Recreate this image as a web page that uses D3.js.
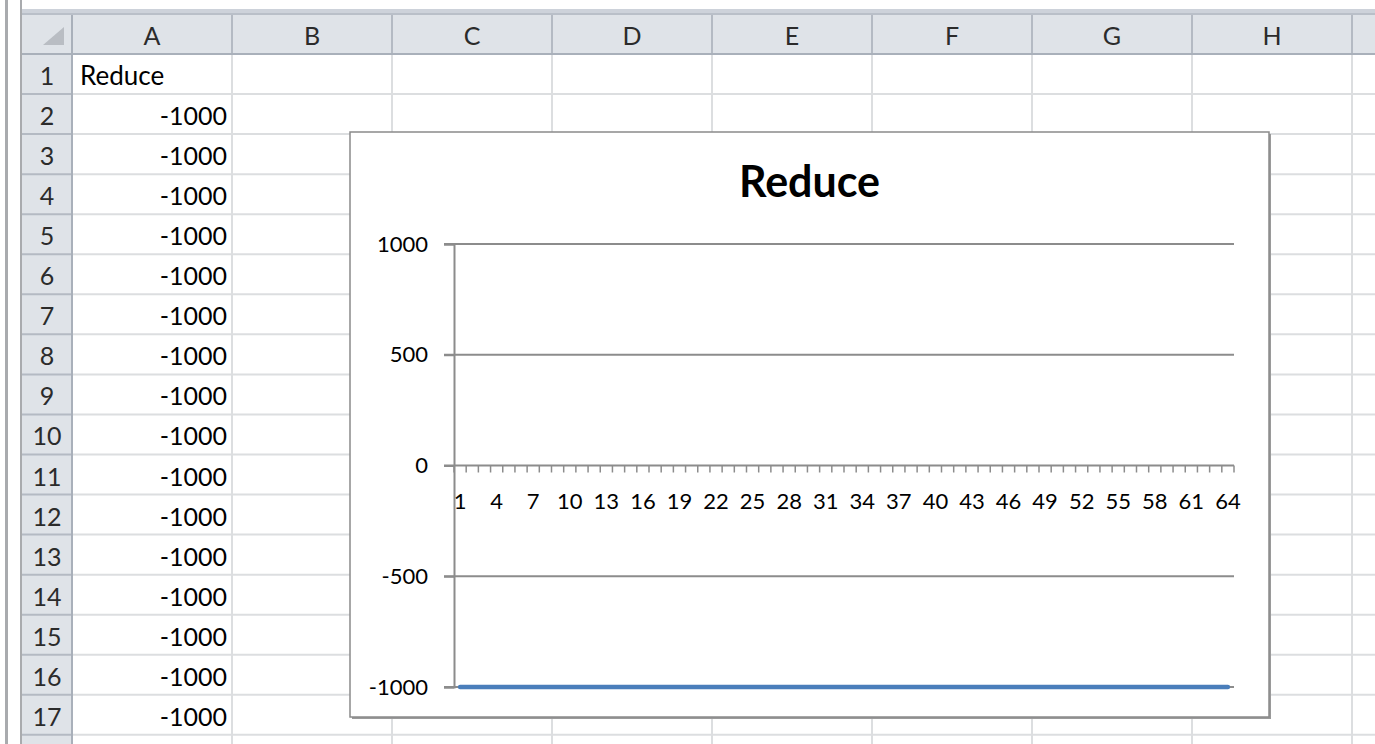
<!DOCTYPE html>
<html>
<head>
<meta charset="utf-8">
<script src="https://cdn.jsdelivr.net/npm/d3@7"></script>
<style>
  html, body { margin: 0; padding: 0; background: #ffffff; }
  svg { display: block; }
  text { font-family: Lato, "Open Sans", "Noto Sans", sans-serif; }
</style>
</head>
<body>
<svg id="chart" width="1375" height="744"></svg>
<script>
// ---- data ----
const seriesName = "Reduce";
const reduceValues = [
  -1000, -1000, -1000, -1000, -1000, -1000, -1000, -1000,
  -1000, -1000, -1000, -1000, -1000, -1000, -1000, -1000,
  -1000, -1000, -1000, -1000, -1000, -1000, -1000, -1000,
  -1000, -1000, -1000, -1000, -1000, -1000, -1000, -1000,
  -1000, -1000, -1000, -1000, -1000, -1000, -1000, -1000,
  -1000, -1000, -1000, -1000, -1000, -1000, -1000, -1000,
  -1000, -1000, -1000, -1000, -1000, -1000, -1000, -1000,
  -1000, -1000, -1000, -1000, -1000, -1000, -1000, -1000
];
const categories = reduceValues.map((_, i) => String(i + 1));
const yTicks = [-1000, -500, 0, 500, 1000];
const columnLetters = ["A", "B", "C", "D", "E", "F", "G", "H"];
const rowNumbers = ["1","2","3","4","5","6","7","8","9","10","11","12","13","14","15","16","17"];

// ---- spreadsheet backdrop ----
const svg = d3.select("#chart");
const W = 1375, H = 744;
const headerTop = 14, headerBottom = 54, rowH = 40.05;
const rowHdrLeft = 22, rowHdrRight = 72, colW = 160;
const hdrBg = "#dfe3e8", hdrLine = "#b4bac3", cellLine = "#dcdee0", hdrText = "#2b2b2b";

const sheet = svg.append("g");
sheet.append("rect").attr("x", 0).attr("y", 0).attr("width", W).attr("height", H).attr("fill", "#fff");
sheet.append("rect").attr("x", rowHdrLeft).attr("y", 9).attr("width", W - rowHdrLeft).attr("height", 4).attr("fill", "#cdd2da");
sheet.append("rect").attr("x", 5).attr("y", 0).attr("width", 3).attr("height", H).attr("fill", "#a9abae");
sheet.append("rect").attr("x", 20).attr("y", 0).attr("width", 2).attr("height", H).attr("fill", "#a9abae");

sheet.append("rect").attr("x", rowHdrLeft).attr("y", headerTop).attr("width", W - rowHdrLeft).attr("height", headerBottom - headerTop).attr("fill", hdrBg);
sheet.append("rect").attr("x", rowHdrLeft).attr("y", headerBottom).attr("width", rowHdrRight - rowHdrLeft).attr("height", H - headerBottom).attr("fill", hdrBg);

// cell grid lines (one extra column / row beyond the labelled ones, partly visible)
const colX = d3.range(columnLetters.length + 2).map(i => rowHdrRight + i * colW);
const rowY = d3.range(rowNumbers.length + 2).map(i => headerBottom + i * rowH);
sheet.selectAll("line.vgrid").data(colX.slice(1)).join("line")
  .attr("x1", d => d).attr("x2", d => d).attr("y1", headerBottom).attr("y2", H)
  .attr("stroke", cellLine).attr("stroke-width", 2);
sheet.selectAll("line.hgrid").data(rowY.slice(1)).join("line")
  .attr("x1", rowHdrRight).attr("x2", W).attr("y1", d => d).attr("y2", d => d)
  .attr("stroke", cellLine).attr("stroke-width", 2);
sheet.selectAll("line.colhdr").data(colX).join("line")
  .attr("x1", d => d).attr("x2", d => d).attr("y1", headerTop).attr("y2", headerBottom)
  .attr("stroke", hdrLine).attr("stroke-width", 2);
sheet.selectAll("line.rowhdr").data(rowY.slice(1)).join("line")
  .attr("x1", rowHdrLeft).attr("x2", rowHdrRight).attr("y1", d => d).attr("y2", d => d)
  .attr("stroke", hdrLine).attr("stroke-width", 2);
sheet.append("line").attr("x1", rowHdrLeft).attr("x2", W).attr("y1", headerBottom).attr("y2", headerBottom)
  .attr("stroke", "#a9b0ba").attr("stroke-width", 2);
sheet.append("line").attr("x1", rowHdrRight).attr("x2", rowHdrRight).attr("y1", headerTop).attr("y2", H)
  .attr("stroke", "#a9b0ba").attr("stroke-width", 2);
sheet.append("line").attr("x1", rowHdrLeft).attr("x2", W).attr("y1", headerTop).attr("y2", headerTop)
  .attr("stroke", "#b9bfc8").attr("stroke-width", 2);
sheet.append("path").attr("d", "M43,45 L64,45 L64,27 Z").attr("fill", "#b9bdc3");

sheet.selectAll("text.col").data(columnLetters).join("text")
  .attr("x", (d, i) => rowHdrRight + i * colW + colW / 2).attr("y", 35)
  .attr("text-anchor", "middle").attr("dominant-baseline", "central")
  .attr("font-size", 25).attr("fill", hdrText).text(d => d);
sheet.selectAll("text.row").data(rowNumbers).join("text")
  .attr("x", (rowHdrLeft + rowHdrRight) / 2 ).attr("y", (d, i) => headerBottom + i * rowH + rowH / 2 + 1)
  .attr("text-anchor", "middle").attr("dominant-baseline", "central")
  .attr("font-size", 25).attr("fill", hdrText).text(d => d);

sheet.append("text").attr("x", 80).attr("y", headerBottom + rowH / 2 + 1)
  .attr("dominant-baseline", "central").attr("font-size", 26).attr("fill", "#000").text(seriesName);
const visibleRows = reduceValues.slice(0, 16);
sheet.selectAll("text.val").data(visibleRows).join("text")
  .attr("x", rowHdrRight + colW - 5)
  .attr("y", (d, i) => headerBottom + (i + 1) * rowH + rowH / 2 + 1)
  .attr("text-anchor", "end").attr("dominant-baseline", "central")
  .attr("font-size", 25).attr("fill", "#000").text(d => String(d));

// ---- chart object ----
const box = { x: 350, y: 132, w: 919, h: 585 };
const chart = svg.append("g");
chart.append("rect").attr("x", box.x + 2).attr("y", box.y + 2).attr("width", box.w).attr("height", box.h).attr("fill", "#9a9a9a");
chart.append("rect").attr("x", box.x).attr("y", box.y).attr("width", box.w).attr("height", box.h)
  .attr("fill", "#fff").attr("stroke", "#8a8a8a").attr("stroke-width", 1.5);

chart.append("text").attr("x", box.x + box.w / 2).attr("y", 197)
  .attr("text-anchor", "middle").attr("font-size", 43).attr("font-weight", "bold").attr("fill", "#000").text(seriesName);

const plotL = 454, plotR = 1234, plotT = 244, plotB = 687;
const y = d3.scaleLinear().domain([-1000, 1000]).range([plotB, plotT]);
const x = d3.scaleBand().domain(categories).range([plotL, plotR]).padding(0);

chart.append("g").selectAll("line").data(yTicks.filter(d => d !== 0)).join("line")
  .attr("x1", plotL - 10).attr("x2", plotR).attr("y1", d => y(d)).attr("y2", d => y(d))
  .attr("stroke", "#8c8c8c").attr("stroke-width", 2);

const yAxis = chart.append("g").attr("transform", `translate(${plotL},0)`)
  .call(d3.axisLeft(y).tickValues(yTicks).tickSize(10).tickPadding(16).tickFormat(d => String(d)));
yAxis.select(".domain").attr("stroke", "#8c8c8c").attr("stroke-width", 2);
yAxis.selectAll(".tick line").attr("stroke", "#8c8c8c").attr("stroke-width", 2);
yAxis.selectAll(".tick text").attr("font-size", 22).attr("fill", "#000")
  .style("font-family", "Lato, 'Open Sans', sans-serif");

const xAxisG = chart.append("g").attr("transform", `translate(0,${y(0)})`);
xAxisG.append("line").attr("x1", plotL - 10).attr("x2", plotR).attr("y1", 0).attr("y2", 0)
  .attr("stroke", "#8c8c8c").attr("stroke-width", 2);
const boundaries = categories.map(c => x(c)).concat([plotR]);
xAxisG.selectAll("line.tk").data(boundaries).join("line")
  .attr("x1", d => d).attr("x2", d => d).attr("y1", 0).attr("y2", 7)
  .attr("stroke", "#8c8c8c").attr("stroke-width", 1.5);
xAxisG.selectAll("text").data(categories.filter((c, i) => i % 3 === 0)).join("text")
  .attr("x", d => x(d) + x.bandwidth() / 2).attr("y", 35)
  .attr("text-anchor", "middle").attr("dominant-baseline", "central")
  .attr("font-size", 22).attr("fill", "#000").text(d => d);

const line = d3.line().x((d, i) => x(categories[i]) + x.bandwidth() / 2).y(d => y(d));
chart.append("path").datum(reduceValues).attr("d", line)
  .attr("fill", "none").attr("stroke", "#4a7ebb").attr("stroke-width", 4.5).attr("stroke-linecap", "round");
</script>
</body>
</html>
